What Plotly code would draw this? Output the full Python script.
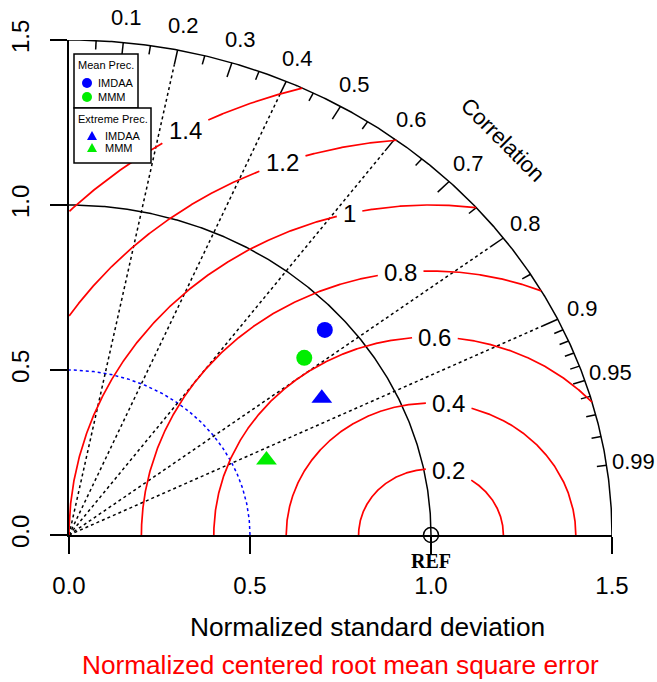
import numpy as np
import plotly.graph_objects as go

# ---------------- data ----------------
model_names = ["IMDAA", "MMM"]
model_colors = ["#0000ff", "#00ee00"]
mean_std = [0.941, 0.843]          # Mean Prec.: IMDAA, MMM
mean_corr = [0.751, 0.771]
extreme_std = [0.812, 0.591]       # Extreme Prec.: IMDAA, MMM
extreme_corr = [0.860, 0.923]

ref_std = 1.0
max_std = 1.5
inner_std_arc = 0.5
std_ticks = [0.0, 0.5, 1.0, 1.5]
std_tick_text = ["0.0", "0.5", "1.0", "1.5"]

rms_levels = [0.2, 0.4, 0.6, 0.8, 1.0, 1.2, 1.4]
rms_text = ["0.2", "0.4", "0.6", "0.8", "1", "1.2", "1.4"]

corr_label_values = [0.1, 0.2, 0.3, 0.4, 0.5, 0.6, 0.7, 0.8, 0.9, 0.95, 0.99]
corr_label_text = ["0.1", "0.2", "0.3", "0.4", "0.5", "0.6", "0.7", "0.8", "0.9", "0.95", "0.99"]
corr_major = [0.1, 0.2, 0.3, 0.4, 0.5, 0.6, 0.7, 0.8, 0.9]
corr_mid = [0.95]
corr_minor = [0.05, 0.15, 0.25, 0.35, 0.45, 0.55, 0.65, 0.75, 0.85,
              0.91, 0.92, 0.93, 0.94, 0.96, 0.97, 0.98, 0.99]
corr_rays = [0.2, 0.4, 0.6, 0.8, 0.9]

# ---------------- style / layout ----------------
W, H = 657, 682
ML, MR, MT, MB = 69, 45, 40, 147
XS = (W - ML - MR) / max_std
YS = (H - MT - MB) / max_std
FONT = "Liberation Sans, Arial, Helvetica, sans-serif"
rms_label_angle_deg = [76, 83, 89, 96, 103, 110, 119]
corr_label_radius = 1.575
tick_len = {"major": 0.045, "mid": 0.034, "minor": 0.027}


def polar_xy(r, c):
    th = np.arccos(np.asarray(c, dtype=float))
    return np.asarray(r) * np.cos(th), np.asarray(r) * np.sin(th)


def to_px(x, y):
    return ML + XS * np.asarray(x), MT + YS * (max_std - np.asarray(y))


def paper(px, py):
    return (px - ML) / (W - ML - MR), (H - MB - py) / (H - MT - MB)


def data_to_paper(x, y):
    # axis ranges span exactly the plot domain, so data -> paper is a rescale
    return float(x) / max_std, float(y) / max_std


def text_w(s, size):
    w = {".": 0.278}
    return sum(w.get(ch, 0.556) for ch in s) * size


fig = go.Figure()

# outer and reference std arcs
t = np.linspace(0, np.pi / 2, 400)
for r in [max_std, ref_std]:
    fig.add_trace(go.Scatter(x=r * np.cos(t), y=r * np.sin(t), mode="lines",
                             line=dict(color="black", width=1.5),
                             hoverinfo="skip", showlegend=False, cliponaxis=False))
# blue dotted arc
fig.add_trace(go.Scatter(x=inner_std_arc * np.cos(t), y=inner_std_arc * np.sin(t), mode="lines",
                         line=dict(color="#0000ff", width=1.5, dash="3px,3px"),
                         hoverinfo="skip", showlegend=False, cliponaxis=False))

# correlation rays
rx, ry = [], []
for c in corr_rays:
    x1, y1 = polar_xy(max_std - tick_len["major"], c)
    rx += [0, float(x1), None]
    ry += [0, float(y1), None]
fig.add_trace(go.Scatter(x=rx, y=ry, mode="lines",
                         line=dict(color="black", width=1.5, dash="3px,3px"),
                         hoverinfo="skip", showlegend=False))

# correlation tick marks
tx, ty = [], []
for kind, vals in [("major", corr_major), ("mid", corr_mid), ("minor", corr_minor)]:
    for c in vals:
        x0, y0 = polar_xy(max_std - tick_len[kind], c)
        x1, y1 = polar_xy(max_std, c)
        tx += [float(x0), float(x1), None]
        ty += [float(y0), float(y1), None]
fig.add_trace(go.Scatter(x=tx, y=ty, mode="lines", line=dict(color="black", width=1.5),
                         hoverinfo="skip", showlegend=False, cliponaxis=False))

# RMS arcs with label gaps
annotations = []
tt = np.linspace(0, np.pi, 2000)
for lev, txt, ang in zip(rms_levels, rms_text, rms_label_angle_deg):
    x = ref_std + lev * np.cos(tt)
    y = lev * np.sin(tt)
    a = np.deg2rad(ang)
    lx, ly = ref_std + lev * np.cos(a), lev * np.sin(a)
    px, py = to_px(x, y)
    lpx, lpy = to_px(lx, ly)
    hw = text_w(txt, 24) / 2 + 6
    hh = 14
    inside_label = (np.abs(px - lpx) < hw) & (np.abs(py - lpy) < hh)
    keep = (x >= 0) & (x * x + y * y <= max_std ** 2) & ~inside_label
    xs = [float(v) if k else None for v, k in zip(x, keep)]
    ys = [float(v) if k else None for v, k in zip(y, keep)]
    fig.add_trace(go.Scatter(x=xs, y=ys, mode="lines", line=dict(color="red", width=1.7),
                             hoverinfo="skip", showlegend=False))
    ax_, ay_ = data_to_paper(lx, ly)
    annotations.append(dict(x=ax_, y=ay_, xref="paper", yref="paper", text=txt, showarrow=False,
                            font=dict(family=FONT, size=24, color="black"),
                            xanchor="center", yanchor="middle"))

# correlation labels
for c, txt in zip(corr_label_values, corr_label_text):
    x, y = polar_xy(corr_label_radius, c)
    ax_, ay_ = data_to_paper(x, y)
    annotations.append(dict(x=ax_, y=ay_, xref="paper", yref="paper", text=txt, showarrow=False,
                            font=dict(family=FONT, size=22, color="black"),
                            xanchor="center", yanchor="middle"))
cx, cy = polar_xy(1.694, np.cos(np.deg2rad(45)))
ax_, ay_ = data_to_paper(cx, cy)
annotations.append(dict(x=ax_, y=ay_, xref="paper", yref="paper", text="Correlation",
                        showarrow=False, textangle=45, xanchor="center", yanchor="middle",
                        font=dict(family=FONT, size=22, color="black")))

# REF marker
fig.add_trace(go.Scatter(x=[ref_std], y=[0], mode="markers",
                         marker=dict(symbol="circle-open", size=15, color="black",
                                     line=dict(width=1.5, color="black")),
                         hoverinfo="skip", showlegend=False, cliponaxis=False))
ax_, ay_ = data_to_paper(ref_std, 0)
annotations.append(dict(x=ax_, y=ay_, xref="paper", yref="paper", text="<b>REF</b>", showarrow=False,
                        xanchor="center", yanchor="middle", yshift=-26, borderpad=0,
                        font=dict(family="Liberation Serif, Times New Roman, serif",
                                  size=20, color="black")))

# data points
for stds, corrs, sym, size in [(mean_std, mean_corr, "circle", 16),
                               (extreme_std, extreme_corr, "triangle-up", 18)]:
    x, y = polar_xy(np.array(stds), corrs)
    fig.add_trace(go.Scatter(x=x, y=y, mode="markers",
                             marker=dict(symbol=sym, size=size, color=model_colors,
                                         line=dict(width=0)),
                             text=model_names, showlegend=False, cliponaxis=False))

# axis titles
ax1, ay1 = paper(367, 627)
annotations.append(dict(x=ax1, y=ay1, xref="paper", yref="paper", text="Normalized standard deviation",
                        showarrow=False, font=dict(family=FONT, size=26.3, color="black"),
                        xanchor="center", yanchor="middle"))
ax2, ay2 = paper(340, 665)
annotations.append(dict(x=ax2, y=ay2, xref="paper", yref="paper",
                        text="Normalized centered root mean square error",
                        showarrow=False, font=dict(family=FONT, size=26.2, color="red"),
                        xanchor="center", yanchor="middle"))

# legend boxes (drawn manually)
shapes = []
for (x0, y0, x1, y1) in [(74, 54, 138, 108), (74, 108, 151, 163)]:
    a0, b0 = paper(x0, y1)
    a1, b1 = paper(x1, y0)
    shapes.append(dict(type="rect", xref="paper", yref="paper", x0=a0, y0=b0, x1=a1, y1=b1,
                       line=dict(color="black", width=1.5), fillcolor="white", layer="above"))

legend_titles = [("Mean Prec.", 106, 65), ("Extreme Prec.", 113, 119)]
for txt, px, py in legend_titles:
    a, b = paper(px, py)
    annotations.append(dict(x=a, y=b, xref="paper", yref="paper", text=txt, showarrow=False,
                            font=dict(family=FONT, size=11, color="black"),
                            xanchor="center", yanchor="middle"))
# mean (circles)
for i, (name, col) in enumerate(zip(model_names, model_colors)):
    cxp, cyp = 87, 83 + 14 * i
    a0, b0 = paper(cxp - 5, cyp + 5)
    a1, b1 = paper(cxp + 5, cyp - 5)
    shapes.append(dict(type="circle", xref="paper", yref="paper", x0=a0, y0=b0, x1=a1, y1=b1,
                       fillcolor=col, line=dict(width=0), layer="above"))
    a, b = paper(96, cyp)
    annotations.append(dict(x=a, y=b, xref="paper", yref="paper", text=name, showarrow=False,
                            font=dict(family=FONT, size=11, color="black"),
                            xanchor="left", yanchor="middle"))
# extreme (triangles)
for i, (name, col) in enumerate(zip(model_names, model_colors)):
    cxp, cyp = 92, 136 + 12 * i
    p1 = paper(cxp - 5, cyp + 4)
    p2 = paper(cxp + 5, cyp + 4)
    p3 = paper(cxp, cyp - 5)
    path = f"M {p1[0]} {p1[1]} L {p2[0]} {p2[1]} L {p3[0]} {p3[1]} Z"
    shapes.append(dict(type="path", xref="paper", yref="paper", path=path,
                       fillcolor=col, line=dict(width=0), layer="above"))
    a, b = paper(103, cyp)
    annotations.append(dict(x=a, y=b, xref="paper", yref="paper", text=name, showarrow=False,
                            font=dict(family=FONT, size=11, color="black"),
                            xanchor="left", yanchor="middle"))

axis_common = dict(range=[0, max_std], showgrid=False, zeroline=False, showline=True,
                   linecolor="black", linewidth=1.5, ticks="outside", ticklen=17, tickwidth=1.5,
                   tickcolor="black", tickvals=std_ticks, ticktext=std_tick_text,
                   tickfont=dict(family=FONT, size=24, color="black"), fixedrange=True,
                   automargin=False)

fig.update_layout(
    width=W, height=H,
    margin=dict(l=ML, r=MR, t=MT, b=MB, pad=0, autoexpand=False),
    paper_bgcolor="white", plot_bgcolor="white",
    xaxis=dict(**axis_common, ticklabelstandoff=11),
    yaxis=dict(**axis_common, tickangle=-90, ticklabelstandoff=12),
    annotations=annotations, shapes=shapes,
    showlegend=False,
)

fig.write_html("out.html", config={"displayModeBar": False, "staticPlot": False},
               post_script="document.body.style.margin='0';document.body.style.padding='0';")
